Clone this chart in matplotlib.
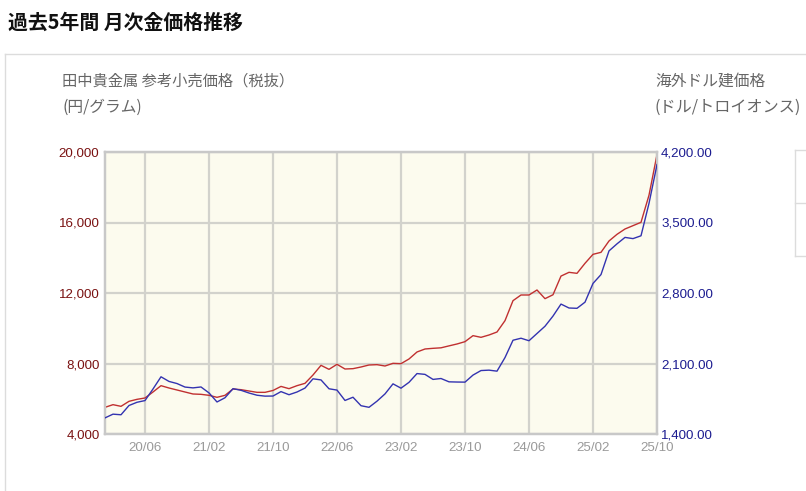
#Monthly gold price chart: Tanaka retail price (yen/g, left) vs overseas USD price (right)
import matplotlib
matplotlib.use('Agg')
import matplotlib.pyplot as plt
from matplotlib.lines import Line2D
import pandas as pd

plt.rcParams['font.family'] = ['Noto Sans CJK JP', 'DejaVu Sans']

#Month labels, 2020/01 - 2025/10
months = pd.period_range('2020-01', '2025-10', freq='M').strftime('%y/%m').tolist()

#Tanaka reference retail price, tax excluded (yen per gram)
yen_price = [5513, 5664, 5570, 5854, 5967, 6043, 6383, 6742, 6610, 6497, 6383, 6270,
             6251, 6194, 6081, 6194, 6553, 6515, 6440, 6364, 6364, 6470, 6700, 6572,
             6742, 6875, 7348, 7896, 7669, 7953, 7688, 7707, 7802, 7915, 7934, 7858,
             8010, 7991, 8256, 8653, 8823, 8861, 8890, 9000, 9107, 9239, 9580, 9485,
             9617, 9787, 10431, 11565, 11887, 11887, 12171, 11679, 11900, 12960, 13173, 13116,
             13684, 14194, 14308, 14951, 15329, 15632, 15821, 16010, 17550, 19850]

#Overseas dollar price (USD per troy ounce)
usd_price = [1560, 1597, 1591, 1683, 1715, 1732, 1847, 1968, 1922, 1901, 1866, 1858,
             1867, 1808, 1718, 1760, 1850, 1834, 1807, 1785, 1776, 1777, 1821, 1790,
             1817, 1856, 1948, 1937, 1849, 1836, 1733, 1765, 1681, 1665, 1726, 1798,
             1898, 1855, 1913, 2000, 1992, 1942, 1951, 1918, 1916, 1915, 1985, 2030,
             2034, 2024, 2159, 2331, 2351, 2326, 2398, 2470, 2571, 2690, 2651, 2648,
             2709, 2895, 2983, 3218, 3288, 3352, 3340, 3368, 3690, 4075]

yen_ticks = [4000, 8000, 12000, 16000, 20000]
usd_ticks = [1400, 2100, 2800, 3500, 4200]
x_tick_labels = ['20/06', '21/02', '21/10', '22/06', '23/02', '23/10', '24/06', '25/02', '25/10']

W, H = 806, 491
fig = plt.figure(figsize=(W / 100, H / 100), dpi=100)

#plot area in pixels: x 105-657, y 152-434
ax = fig.add_axes([105 / W, 1 - 434 / H, 552 / W, 282 / H])
ax.set_facecolor('#fcfbee')
x = list(range(len(months)))

ax2 = ax.twinx()
ax.plot(x, yen_price, color='#c03030', lw=1.0, zorder=3)
ax2.plot(x, usd_price, color='#3333b0', lw=1.0, zorder=3)

ax.set_xlim(0, len(months) - 1)
ax.set_ylim(4000, 20000)
ax2.set_ylim(1400, 4200)

ax.set_xticks([months.index(m) for m in x_tick_labels])
ax.set_xticklabels(x_tick_labels)
ax.set_yticks(yen_ticks)
ax.set_yticklabels([f'{v:,}' for v in yen_ticks])
ax2.set_yticks(usd_ticks)
ax2.set_yticklabels([f'{v:,.2f}' for v in usd_ticks])

ax.grid(True, color='#d2d2cc', lw=1.6)
ax.set_axisbelow(True)
for a in (ax, ax2):
    for s in a.spines.values():
        s.set_color('#c8c8c8')
        s.set_linewidth(1.6)

tick_font = {'family': 'Liberation Sans', 'size': 9.6}
ax.tick_params(axis='y', length=0, pad=4, labelcolor='#7a1212')
ax.tick_params(axis='x', length=0, pad=6, labelcolor='#9a9a9a')
ax2.tick_params(axis='y', length=0, pad=3, labelcolor='#1c1c90')
for lab in ax.get_yticklabels() + ax.get_xticklabels() + ax2.get_yticklabels():
    lab.set_fontfamily(tick_font['family'])
    lab.set_fontsize(tick_font['size'])

#Titles
fig.text(8 / W, 1 - 22 / H, '過去5年間 月次金価格推移', fontsize=14.3, weight='bold',
         color='#111111', va='center', ha='left')
fig.text(62 / W, 1 - 81 / H, '田中貴金属 参考小売価格（税抜）', fontsize=11, color='#666666',
         va='center', ha='left')
fig.text(62 / W, 1 - 107 / H, '(円/グラム)', fontsize=11.3, color='#666666', va='center', ha='left')
fig.text(655 / W, 1 - 81 / H, '海外ドル建価格', fontsize=11.3, color='#666666', va='center', ha='left')
fig.text(655 / W, 1 - 107 / H, '(ドル/トロイオンス)', fontsize=11.6, color='#666666',
         va='center', ha='left')

#Panel border and cut-off box on the right
def px_line(x0, y0, x1, y1):
    fig.add_artist(Line2D([x0 / W, x1 / W], [1 - y0 / H, 1 - y1 / H], color='#dcdcdc',
                          lw=1.0, transform=fig.transFigure))

px_line(5, 54, W, 54)
px_line(5, 54, 5, H)
px_line(795, 150, 795, 256)
px_line(795, 150, W, 150)
px_line(795, 203, W, 203)
px_line(795, 256, W, 256)

fig.savefig('out.png', dpi=100)
